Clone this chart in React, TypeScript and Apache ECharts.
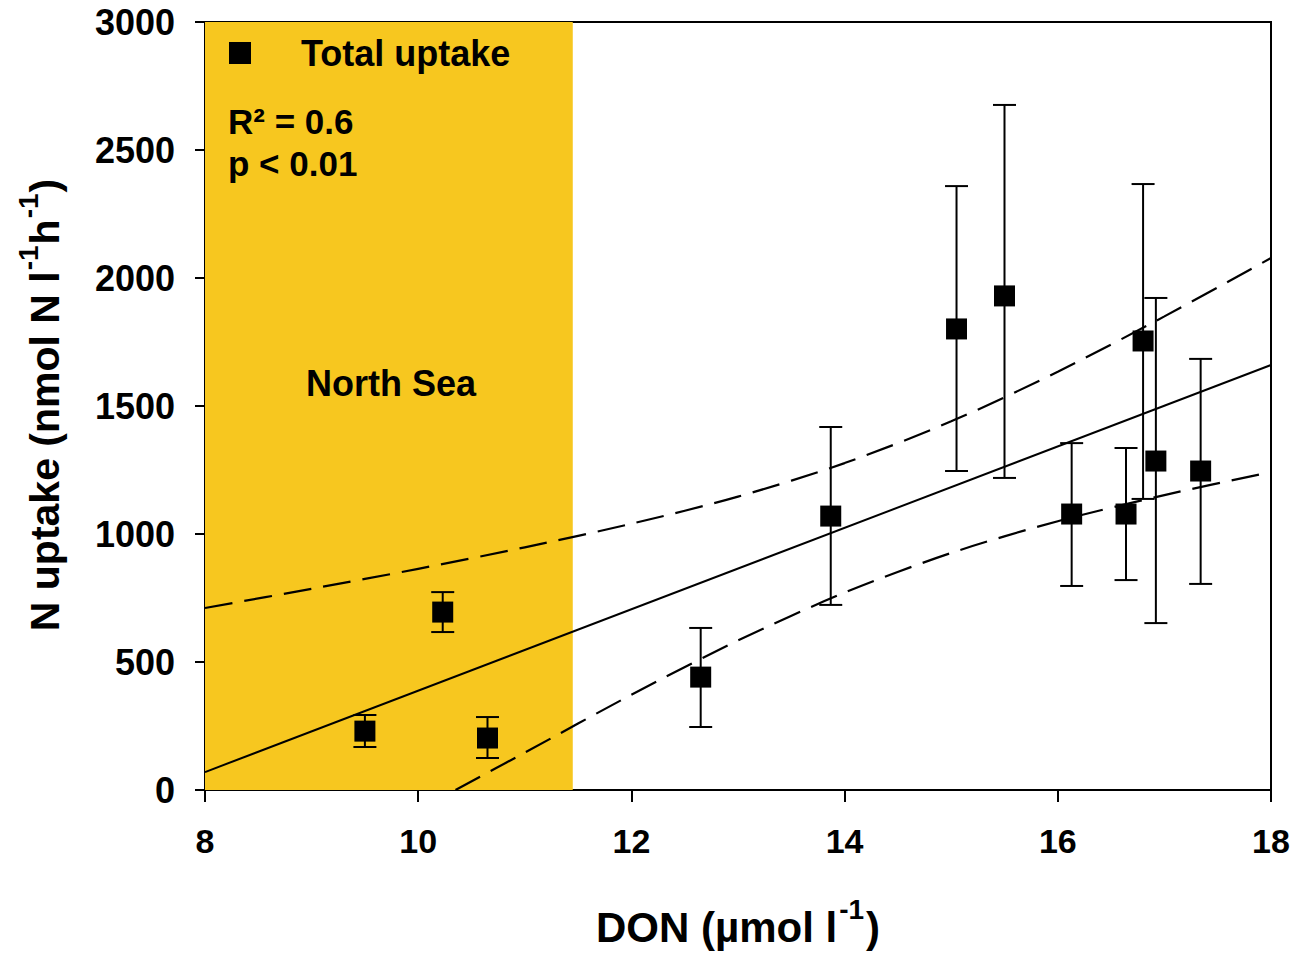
import React, { useEffect, useRef } from 'react';
import * as echarts from 'echarts';

// DON (µmol l-1) and total N uptake (nmol N l-1 h-1)
const donValues = [9.5, 10.23, 10.65, 12.65, 13.87, 15.05, 15.5, 16.13, 16.64, 16.8, 16.92, 17.34];
const uptakeValues = [230, 695, 203, 441, 1070, 1801, 1930, 1078, 1078, 1754, 1285, 1246];
const errLow = [168, 617, 125, 246, 723, 1246, 1219, 797, 820, 1137, 652, 805];
const errHigh = [293, 773, 285, 633, 1418, 2359, 2676, 1355, 1336, 2367, 1922, 1684];

// regression line and 95% confidence band
const fitX = [8, 18];
const fitY = [70, 1660];
const upperX = [8, 9, 10, 11, 12, 13, 14, 15, 16, 17, 18];
const upperY = [711, 786, 864, 948, 1040, 1146, 1277, 1440, 1634, 1850, 2078];
const lowerX = [10.35, 11, 12, 13, 14, 15, 16, 17, 18];
const lowerY = [0, 146, 372, 584, 771, 926, 1050, 1152, 1242];

const northSeaRange = [8, 11.45];
const xMin = 8, xMax = 18, xStep = 2;
const yMin = 0, yMax = 3000, yStep = 500;

const FONT = '"Liberation Sans", Arial, Helvetica, sans-serif';
const YELLOW = '#F7C71F';

export default function App() {
  const ref = useRef<HTMLDivElement>(null);
  useEffect(() => {
    if (!ref.current) return;
    const chart = echarts.init(ref.current, undefined, { renderer: 'svg' });
    const pts = donValues.map((x, i) => [x, uptakeValues[i]]);
    const errData = donValues.map((x, i) => [x, errLow[i], errHigh[i]]);
    chart.setOption({
      animation: false,
      backgroundColor: '#ffffff',
      grid: {
        left: 205, right: 25, top: 22, bottom: 164,
        show: true, borderColor: '#000', borderWidth: 2, backgroundColor: 'transparent',
      },
      legend: {
        left: 224, top: 30,
        itemWidth: 22, itemHeight: 22,
        data: [{ name: 'Total uptake', icon: 'rect', itemStyle: { color: '#000', opacity: 1 } }],
        textStyle: { fontFamily: FONT, fontWeight: 'bold', fontSize: 36, color: '#000', padding: [0, 0, 0, 45] },
      },
      xAxis: {
        type: 'value', min: xMin, max: xMax, interval: xStep,
        axisLine: { lineStyle: { color: '#000', width: 2 } },
        axisTick: { show: true, inside: false, length: 12, lineStyle: { color: '#000', width: 2 } },
        axisLabel: { margin: 34, color: '#000', fontFamily: FONT, fontWeight: 'bold', fontSize: 34, formatter: (v: number) => String(v) },
        splitLine: { show: false },
      },
      yAxis: {
        type: 'value', min: yMin, max: yMax, interval: yStep,
        axisLine: { show: true, lineStyle: { color: '#000', width: 2 } },
        axisTick: { show: true, inside: false, length: 10, lineStyle: { color: '#000', width: 2 } },
        axisLabel: { margin: 30, color: '#000', fontFamily: FONT, fontWeight: 'bold', fontSize: 36, formatter: (v: number) => String(v) },
        splitLine: { show: false },
      },
      graphic: [
        {
          type: 'text', left: 228, top: 104, z: 100,
          style: { text: 'R² = 0.6', fontFamily: FONT, fontWeight: 'bold', fontSize: 35, fill: '#000' },
        },
        {
          type: 'text', left: 228, top: 146, z: 100,
          style: { text: 'p < 0.01', fontFamily: FONT, fontWeight: 'bold', fontSize: 35, fill: '#000' },
        },
        {
          type: 'text', x: 391, y: 383, z: 100,
          style: { text: 'North Sea', align: 'center', verticalAlign: 'middle', fontFamily: FONT, fontWeight: 'bold', fontSize: 36, fill: '#000' },
        },
        {
          type: 'text', x: 738, y: 922, z: 100,
          style: {
            text: '{a|DON (µmol l}{s|-1}{a|)}',
            align: 'center', verticalAlign: 'middle',
            rich: {
              a: { fontFamily: FONT, fontWeight: 'bold', fontSize: 42, fill: '#000', color: '#000', verticalAlign: 'bottom' },
              s: { fontFamily: FONT, fontWeight: 'bold', fontSize: 28, fill: '#000', color: '#000', verticalAlign: 'bottom', padding: [0, 2, 25, 2] },
            },
          },
        },
        {
          type: 'text', x: 40, y: 405, rotation: Math.PI / 2, z: 100,
          style: {
            text: '{a|N uptake (nmol N l}{s|-1}{a|h}{s|-1}{a|)}',
            align: 'center', verticalAlign: 'middle',
            rich: {
              a: { fontFamily: FONT, fontWeight: 'bold', fontSize: 41, fill: '#000', color: '#000', verticalAlign: 'bottom' },
              s: { fontFamily: FONT, fontWeight: 'bold', fontSize: 28, fill: '#000', color: '#000', verticalAlign: 'bottom', padding: [0, 1, 23, 1] },
            },
          },
        },
      ],
      series: [
        {
          name: 'region', type: 'line', data: [], z: 0,
          markArea: {
            silent: true,
            itemStyle: { color: YELLOW, opacity: 1 },
            data: [[{ xAxis: northSeaRange[0] }, { xAxis: northSeaRange[1] }]],
          },
        },
        {
          name: 'fit', type: 'line', data: fitX.map((x, i) => [x, fitY[i]]),
          showSymbol: false, symbol: 'none', z: 3,
          lineStyle: { color: '#000', width: 2 },
        },
        {
          name: 'upper', type: 'line', data: upperX.map((x, i) => [x, upperY[i]]),
          showSymbol: false, symbol: 'none', smooth: 0.3, z: 3,
          lineStyle: { color: '#000', width: 2.2, type: [28, 12] },
        },
        {
          name: 'lower', type: 'line', data: lowerX.map((x, i) => [x, lowerY[i]]),
          showSymbol: false, symbol: 'none', smooth: 0.3, z: 3,
          lineStyle: { color: '#000', width: 2.2, type: [28, 12] },
        },
        {
          name: 'errors', type: 'custom', z: 4,
          data: errData,
          renderItem: (params: any, api: any) => {
            const x = api.value(0);
            const lo = api.coord([x, api.value(1)]);
            const hi = api.coord([x, api.value(2)]);
            const hw = 11.5;
            const st = { stroke: '#000', lineWidth: 2 };
            return {
              type: 'group',
              children: [
                { type: 'line', shape: { x1: lo[0], y1: lo[1], x2: hi[0], y2: hi[1] }, style: st },
                { type: 'line', shape: { x1: lo[0] - hw, y1: lo[1], x2: lo[0] + hw, y2: lo[1] }, style: st },
                { type: 'line', shape: { x1: hi[0] - hw, y1: hi[1], x2: hi[0] + hw, y2: hi[1] }, style: st },
              ],
            };
          },
        },
        {
          name: 'Total uptake', type: 'scatter', data: pts, z: 5,
          symbol: 'rect', symbolSize: 21,
          itemStyle: { color: '#000', opacity: 1 },
        },
      ],
    });
    return () => chart.dispose();
  }, []);
  return <div ref={ref} style={{ position: 'fixed', left: 0, top: 0, width: 1296, height: 954 }} />;
}
